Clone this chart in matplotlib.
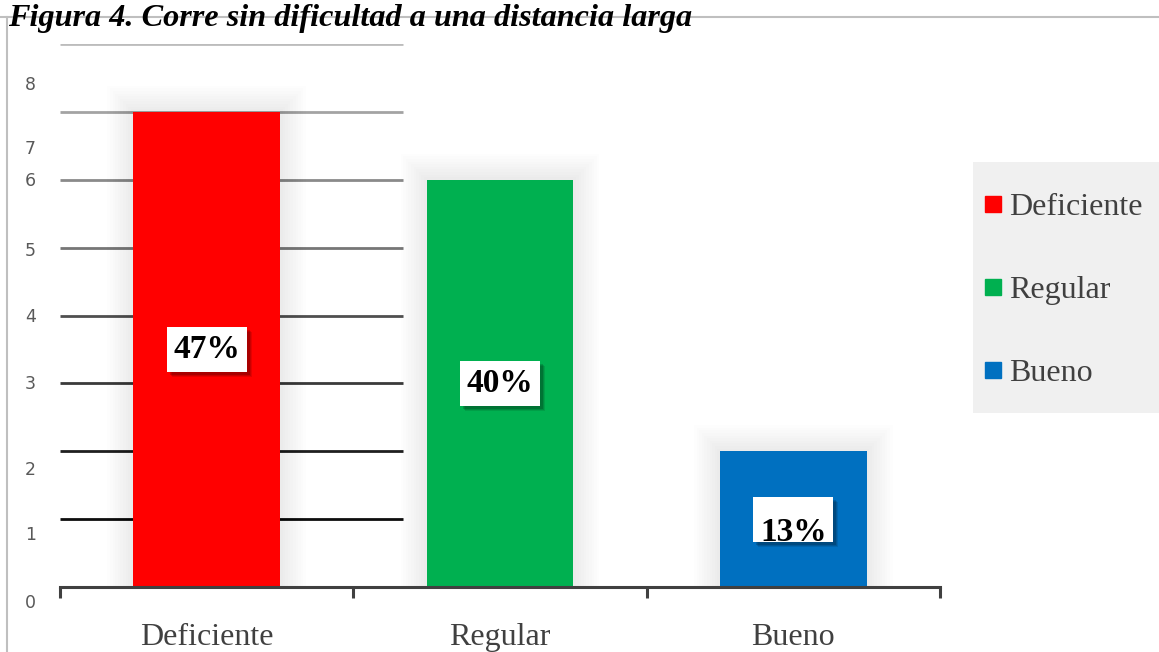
import numpy as np
import matplotlib
matplotlib.use('Agg')
import matplotlib.pyplot as plt
from matplotlib.patches import Rectangle
from matplotlib.lines import Line2D
import matplotlib.transforms as mtransforms

# data
categories = ['Deficiente', 'Regular', 'Bueno']
counts = [7, 6, 2]
percent_labels = ['47%', '40%', '13%']
bar_colors = ['#ff0000', '#00b050', '#0070c0']
ytick_values = [0, 1, 2, 3, 4, 5, 6, 7, 8]
title = 'Figura 4. Corre sin dificultad a una distancia larga'

# layout: odd label positions in the original (labels drift from the grid)
ytick_label_pos = [-0.24, 0.77, 1.72, 2.99, 3.98, 4.95, 5.98, 6.45, 7.40]
grid_colors = ['#0d0d0d', '#1f1f1f', '#3a3a3a', '#4f4f4f', '#767676', '#8a8a8a', '#a3a3a3', '#bcbcbc']

W, H = 1159, 652
fig = plt.figure(figsize=(W / 100, H / 100), dpi=100)
ax = fig.add_axes([60 / W, (H - 587) / H, 880 / W, 543 / H])

# partial gridlines (only on the left part, behind bars)
for yv, c in zip(ytick_values[1:], grid_colors):
    ax.hlines(yv, -0.5, 0.67, color=c, lw=2.0, zorder=1)

x = np.arange(len(categories))
bw = 0.5
px_x = 293.3  # pixels per x unit
px_y = 67.9   # pixels per y unit

# soft glow around bars
for xi, v in zip(x, counts):
    for k in range(1, 11):
        dx = k * 2.6 / px_x
        dy = k * 2.6 / px_y
        ax.add_patch(Rectangle((xi - bw / 2 - dx, 0), bw + 2 * dx, v + dy,
                               facecolor='black', edgecolor='none', alpha=0.008, zorder=2))

bars = ax.bar(x, counts, width=bw, color=bar_colors, zorder=3)

# percent labels in white boxes with shadow
bx_w = 80 / px_x
bx_h = 45 / px_y
for i, (xi, v, lab) in enumerate(zip(x, counts, percent_labels)):
    cy = v / 2
    for k, a in [(5, 0.10), (4, 0.12), (3, 0.16)]:
        ax.add_patch(Rectangle((xi - bx_w / 2 + k / px_x, cy - bx_h / 2 - k / px_y), bx_w, bx_h,
                               facecolor='black', edgecolor='none', alpha=a, zorder=4))
    ax.add_patch(Rectangle((xi - bx_w / 2, cy - bx_h / 2), bx_w, bx_h, facecolor='white',
                           edgecolor='none', zorder=4.5))
    ty = cy if i < 2 else cy - 0.19
    ax.text(xi, ty, lab, ha='center', va='center', fontsize=24, fontweight='bold',
            family='Liberation Serif', color='black', zorder=5)

# axes styling
for s in ['top', 'right', 'left']:
    ax.spines[s].set_visible(False)
ax.spines['bottom'].set_color('#404040')
ax.spines['bottom'].set_linewidth(2.2)
ax.spines['bottom'].set_zorder(6)

ax.set_xticks(x)
ax.set_xticklabels(categories, family='Liberation Serif', fontsize=23, color='#404040')
ax.tick_params(axis='x', which='major', length=0, pad=26)
ax.set_xticks([-0.5, 0.5, 1.5, 2.5], minor=True)
ax.tick_params(axis='x', which='minor', length=8, width=2.2, color='#404040', direction='out')

ax.set_yticks([])
ax.set_xlim(-0.5, 2.5)
ax.set_ylim(0, 8)

# y labels drawn as text (they sit off the grid in the original)
trans = mtransforms.blended_transform_factory(fig.transFigure, ax.transData)
for pos, v in zip(ytick_label_pos, ytick_values):
    ax.text(36 / W, pos, str(v), transform=trans, ha='right', va='center', fontsize=12.5,
            color='#595959', family='DejaVu Sans', clip_on=False)

# legend with grey background
fig.patches.append(Rectangle((973 / W, (H - 413) / H), 186 / W, 251 / H, transform=fig.transFigure,
                             facecolor='#f0f0f0', edgecolor='none', zorder=0))
handles = [Line2D([], [], marker='s', ls='none', color=c, markersize=11) for c in bar_colors]
leg = fig.legend(handles, categories, loc='upper left', bbox_to_anchor=(966 / W, (H - 177) / H),
                 frameon=False, prop={'family': 'Liberation Serif', 'size': 23},
                 labelspacing=1.68, handlelength=0.7, handletextpad=0.15, borderpad=0)
for t in leg.get_texts():
    t.set_color('#404040')

# outer frame lines
fig.add_artist(Line2D([0, 1], [(H - 17) / H, (H - 17) / H], transform=fig.transFigure, color='#bfbfbf', lw=1.5))
fig.add_artist(Line2D([7 / W, 7 / W], [0, (H - 17) / H], transform=fig.transFigure, color='#bfbfbf', lw=1.5))

fig.text(8 / W, (H - 26) / H, title, family='Liberation Serif', fontsize=23.2, fontweight='bold',
         fontstyle='italic', va='baseline', ha='left', color='black')

fig.savefig('out.png', dpi=100)
